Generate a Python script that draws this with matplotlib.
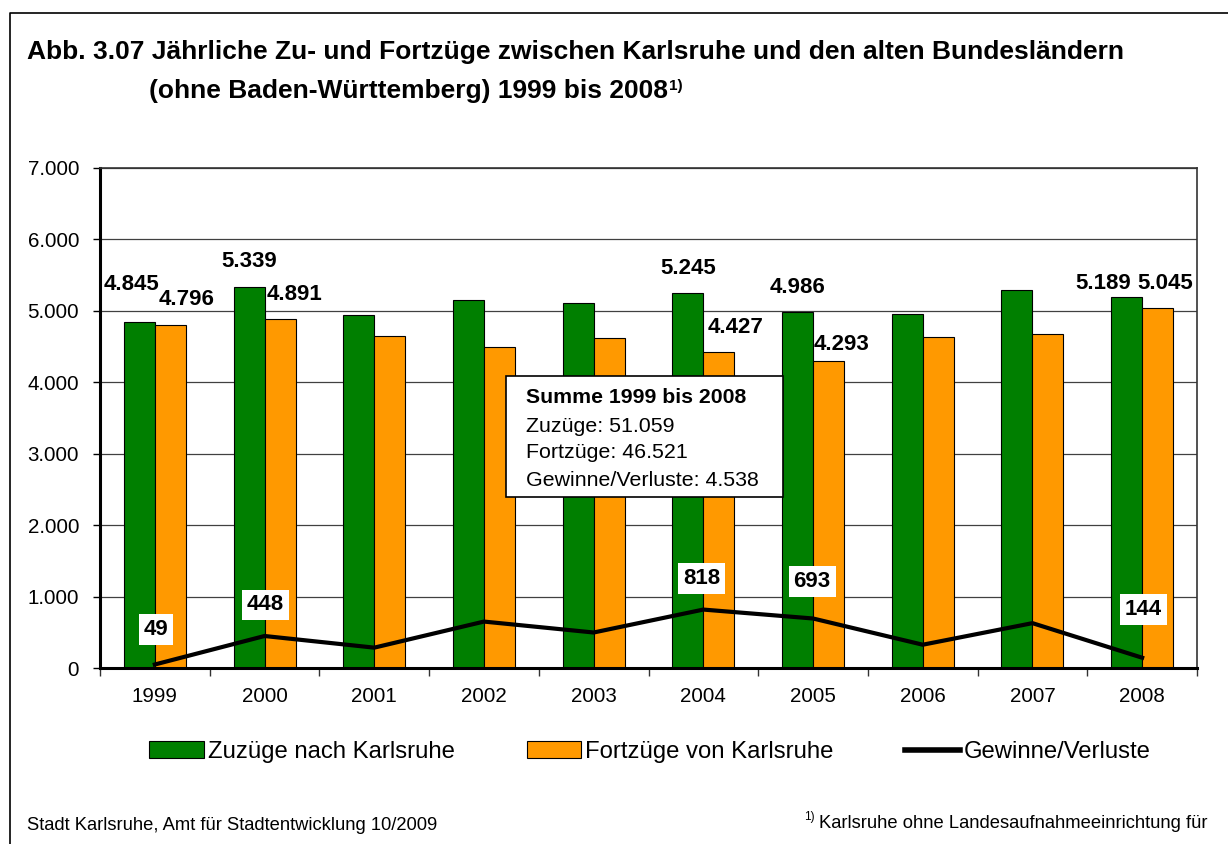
import numpy as np
import matplotlib.pyplot as plt
from matplotlib.lines import Line2D
from matplotlib.patches import Rectangle, Patch
from matplotlib.ticker import FuncFormatter

plt.rcParams['font.family'] = ['Liberation Sans', 'DejaVu Sans']

# Daten
jahre = ['1999', '2000', '2001', '2002', '2003', '2004', '2005', '2006', '2007', '2008']
zuzuege = [4845, 5339, 4935, 5150, 5110, 5245, 4986, 4962, 5298, 5189]
fortzuege = [4796, 4891, 4650, 4500, 4613, 4427, 4293, 4636, 4670, 5045]
saldo = [49, 448, 285, 650, 497, 818, 693, 326, 628, 144]

# welche Werte beschriftet werden
idx_label = [0, 1, 5, 6, 9]
# Versatz der Beschriftungen in Pixeln (dx, dy) ab Balkenoberkante / Linienpunkt
off_zu = [(-8, 37), (0, 25), (0, 25), (0, 24), (-23, 14)]
off_fort = [(16, 26), (14, 24), (17, 24), (13, 17), (8, 24)]
off_saldo = [(1, 35), (1, 31), (-2, 31), (-1, 37), (1, 48)]

summe_titel = 'Summe 1999 bis 2008'
summe_zeilen = ['Zuzüge: 51.059', 'Fortzüge: 46.521', 'Gewinne/Verluste: 4.538']

gruen = '#007F00'
orange = '#FF9900'

W, H = 1228, 844
fig = plt.figure(figsize=(W / 100, H / 100), dpi=100)

def px(x, y):
    return x / W, 1 - y / H

ax = fig.add_axes([100 / W, 1 - 668 / H, 1097 / W, 500 / H])

x = np.arange(len(jahre))
bw = 0.283
ax.bar(x - bw / 2, zuzuege, bw, color=gruen, edgecolor='black', linewidth=0.8, zorder=2,
       label='Zuzüge nach Karlsruhe')
ax.bar(x + bw / 2, fortzuege, bw, color=orange, edgecolor='black', linewidth=0.8, zorder=2,
       label='Fortzüge von Karlsruhe')
ax.plot(x, saldo, color='black', linewidth=3, zorder=3, label='Gewinne/Verluste',
        solid_joinstyle='miter')

fmt = lambda v: '{:,.0f}'.format(v).replace(',', '.')

for k, i in enumerate(idx_label):
    ax.annotate(fmt(zuzuege[i]), (x[i] - bw / 2, zuzuege[i]), xytext=off_zu[k],
                textcoords='offset pixels', ha='center', va='center',
                fontsize=16, fontweight='bold', zorder=5)
    ax.annotate(fmt(fortzuege[i]), (x[i] + bw / 2, fortzuege[i]), xytext=off_fort[k],
                textcoords='offset pixels', ha='center', va='center',
                fontsize=16, fontweight='bold', zorder=5)
    ax.annotate(fmt(saldo[i]), (x[i], saldo[i]), xytext=off_saldo[k],
                textcoords='offset pixels', ha='center', va='center',
                fontsize=16, fontweight='bold', zorder=5,
                bbox=dict(boxstyle='square,pad=0.22', fc='white', ec='none'))

ax.set_xlim(-0.5, len(jahre) - 0.5)
ax.set_ylim(0, 7000)
ax.set_yticks(np.arange(0, 7001, 1000))
ax.yaxis.set_major_formatter(FuncFormatter(lambda v, p: fmt(v)))
ax.set_xticks(x)
ax.set_xticklabels(jahre)
ax.set_xticks(np.arange(-0.5, len(jahre)), minor=True)
ax.tick_params(axis='x', which='major', length=0, pad=14, labelsize=14.8)
ax.tick_params(axis='x', which='minor', length=6, width=1, direction='out', color='#333333')
ax.tick_params(axis='y', length=5, width=1, direction='out', pad=10, labelsize=14.8)
ax.grid(axis='y', color='#404040', linewidth=0.9, zorder=0)
ax.set_axisbelow(True)
for s in ['left', 'bottom']:
    ax.spines[s].set_linewidth(2.2)
for s in ['top', 'right']:
    ax.spines[s].set_linewidth(1.2)
    ax.spines[s].set_color('#333333')

# Kasten mit Summen
fig.add_artist(Rectangle(px(506, 497), 277 / W, 121 / H, transform=fig.transFigure,
                         fc='white', ec='black', lw=1.2, zorder=6))
fig.text(*px(526, 398), summe_titel, fontsize=15.3, fontweight='bold', va='center', zorder=7)
for j, zeile in enumerate(summe_zeilen):
    fig.text(*px(526, 426 + j * 27), zeile, fontsize=15.4, va='center', zorder=7)

# Titel
fig.text(*px(27, 52), 'Abb. 3.07 Jährliche Zu- und Fortzüge zwischen Karlsruhe und den alten Bundesländern',
         fontsize=19, fontweight='bold', va='center')
t2 = fig.text(*px(149, 91), '(ohne Baden-Württemberg) 1999 bis 2008',
              fontsize=19, fontweight='bold', va='center')
ax.annotate('1)', xy=(1, 1), xycoords=t2, xytext=(1, 0), textcoords='offset pixels',
            fontsize=11, fontweight='bold', va='top', ha='left', annotation_clip=False)

# Legende
handles = [Patch(fc=gruen, ec='black', lw=0.8), Patch(fc=orange, ec='black', lw=0.8),
           Line2D([0], [0], color='black', lw=4)]
fig.legend(handles, ['Zuzüge nach Karlsruhe', 'Fortzüge von Karlsruhe', 'Gewinne/Verluste'],
           loc='center', bbox_to_anchor=px(650, 752), ncol=3, frameon=False, fontsize=17.2,
           handlelength=2.3, handleheight=0.7, handletextpad=0.15, columnspacing=3.0)

# Fusszeilen
fig.text(*px(27, 826), 'Stadt Karlsruhe, Amt für Stadtentwicklung 10/2009', fontsize=13.2, va='center')
fig.text(*px(804, 817), '1)', fontsize=8.5, va='center')
fig.text(*px(819, 824), 'Karlsruhe ohne Landesaufnahmeeinrichtung für', fontsize=13.2, va='center')

# Rahmen
fig.add_artist(Line2D([10 / W, 10 / W, 1.0], [0.0, 1 - 13 / H, 1 - 13 / H],
                      transform=fig.transFigure, color='black', lw=1.2))

fig.savefig('out.png', dpi=100)
